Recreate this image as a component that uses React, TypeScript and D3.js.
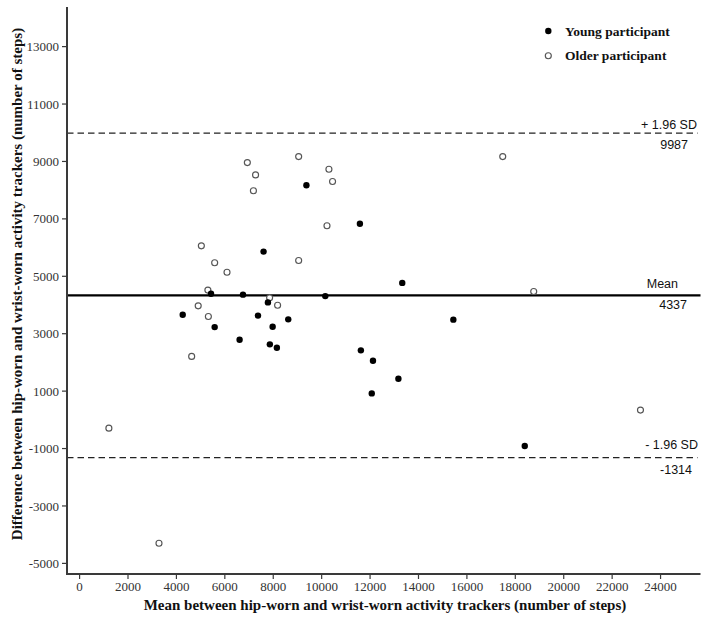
import React from "react";
import * as d3 from "d3";

// Young participants: [mean steps, difference]
const youngMean = [9370, 11580, 7600, 13330, 5430, 6750, 10150, 7780, 4260, 7370, 8620, 15440, 5580, 7975, 6610, 7860, 8150, 11620, 12120, 13170, 12070, 18390];
const youngDiff = [8170, 6830, 5860, 4770, 4390, 4360, 4310, 4090, 3660, 3630, 3500, 3490, 3230, 3240, 2790, 2630, 2510, 2420, 2060, 1430, 920, -910];

// Older participants
const olderMean = [6930, 9050, 7270, 7180, 10300, 10450, 10220, 5030, 5580, 6090, 9050, 5300, 7850, 8180, 4900, 5320, 4630, 17480, 18760, 23170, 1210, 3280];
const olderDiff = [8960, 9170, 8530, 7980, 8730, 8300, 6760, 6060, 5470, 5140, 5550, 4520, 4250, 3990, 3970, 3600, 2210, 9170, 4470, 340, -290, -4300];

const xTicks = [0, 2000, 4000, 6000, 8000, 10000, 12000, 14000, 16000, 18000, 20000, 22000, 24000];
const yTicks = [-5000, -3000, -1000, 1000, 3000, 5000, 7000, 9000, 11000, 13000];

const meanDiff = 4337;
const upperLoA = 9987;
const lowerLoA = -1314;

const legendLabels = ["Young participant", "Older participant"];

const W = 708;
const H = 619;

export default function App() {
  const x = d3.scaleLinear().domain([-520, 25650]).range([67, 700.5]);
  const y = d3.scaleLinear().domain([-5370, 14380]).range([574, 7]);
  const x0 = x.range()[0];
  const x1 = x.range()[1];
  const yb = y.range()[0];
  const yt = y.range()[1];

  const serif = "'Liberation Serif', 'Times New Roman', serif";
  const sans = "'Liberation Sans', Arial, sans-serif";
  const axisColor = "#3a3a3a";

  const young = youngMean.map((m, i) => ({ m, d: youngDiff[i] }));
  const older = olderMean.map((m, i) => ({ m, d: olderDiff[i] }));

  return (
    <svg width={W} height={H} style={{ position: "absolute", left: 0, top: 0, background: "#fff" }}>
      <rect width={W} height={H} fill="#fff" />

      {/* reference lines */}
      <line x1={x0} x2={x1} y1={y(meanDiff)} y2={y(meanDiff)} stroke="#000" strokeWidth={2.2} />
      <line x1={x0} x2={x1 - 3} y1={y(upperLoA)} y2={y(upperLoA)} stroke="#222" strokeWidth={1.3} strokeDasharray="6.5,4" />
      <line x1={x0} x2={x1 - 3} y1={y(lowerLoA)} y2={y(lowerLoA)} stroke="#222" strokeWidth={1.3} strokeDasharray="6.5,4" />

      {/* reference line labels */}
      <g fontFamily={sans} fontSize={12.5} fill="#111">
        <text x={697} y={y(upperLoA) - 4} textAnchor="end">+ 1.96 SD</text>
        <text x={688} y={y(upperLoA) + 16} textAnchor="end">{String(upperLoA)}</text>
        <text x={678} y={y(meanDiff) - 7} textAnchor="end">Mean</text>
        <text x={687} y={y(meanDiff) + 14} textAnchor="end">{String(meanDiff)}</text>
        <text x={698} y={y(lowerLoA) - 9} textAnchor="end">- 1.96 SD</text>
        <text x={692} y={y(lowerLoA) + 16} textAnchor="end">{String(lowerLoA)}</text>
      </g>

      {/* points */}
      {older.map((p, i) => (
        <circle key={"o" + i} cx={x(p.m)} cy={y(p.d)} r={3} fill="#fff" stroke="#555" strokeWidth={1.15} />
      ))}
      {young.map((p, i) => (
        <circle key={"y" + i} cx={x(p.m)} cy={y(p.d)} r={3.2} fill="#000" />
      ))}

      {/* axes */}
      <line x1={x0} x2={x0} y1={yt} y2={yb + 1} stroke={axisColor} strokeWidth={2} />
      <line x1={x0 - 1} x2={x1} y1={yb} y2={yb} stroke={axisColor} strokeWidth={2} />
      {yTicks.map((t) => (
        <g key={"yt" + t}>
          <line x1={x0 - 5} x2={x0} y1={y(t)} y2={y(t)} stroke={axisColor} strokeWidth={1.2} />
          <text x={x0 - 8} y={y(t)} dy="0.35em" textAnchor="end" fontFamily={serif} fontSize={13} fill="#333">
            {String(t)}
          </text>
        </g>
      ))}
      {xTicks.map((t) => (
        <g key={"xt" + t}>
          <line x1={x(t)} x2={x(t)} y1={yb} y2={yb + 5} stroke={axisColor} strokeWidth={1.2} />
          <text x={x(t)} y={yb + 17} textAnchor="middle" fontFamily={serif} fontSize={13} fill="#333">
            {String(t)}
          </text>
        </g>
      ))}

      {/* axis titles */}
      <text x={385} y={610} textAnchor="middle" fontFamily={serif} fontWeight="bold" fontSize={15} fill="#111">
        Mean between hip-worn and wrist-worn activity trackers (number of steps)
      </text>
      <text
        transform={`translate(22, 284) rotate(-90)`}
        textAnchor="middle"
        fontFamily={serif}
        fontWeight="bold"
        fontSize={15}
        fill="#111"
      >
        Difference between hip-worn and wrist-worn activity trackers (number of steps)
      </text>

      {/* legend */}
      <g>
        <circle cx={548.3} cy={31} r={3.2} fill="#000" />
        <text x={565} y={35.5} fontFamily={serif} fontWeight="bold" fontSize={13.5} fill="#111">{legendLabels[0]}</text>
        <circle cx={548.3} cy={55.7} r={3} fill="#fff" stroke="#555" strokeWidth={1.15} />
        <text x={565} y={60.2} fontFamily={serif} fontWeight="bold" fontSize={13.5} fill="#111">{legendLabels[1]}</text>
      </g>
    </svg>
  );
}
